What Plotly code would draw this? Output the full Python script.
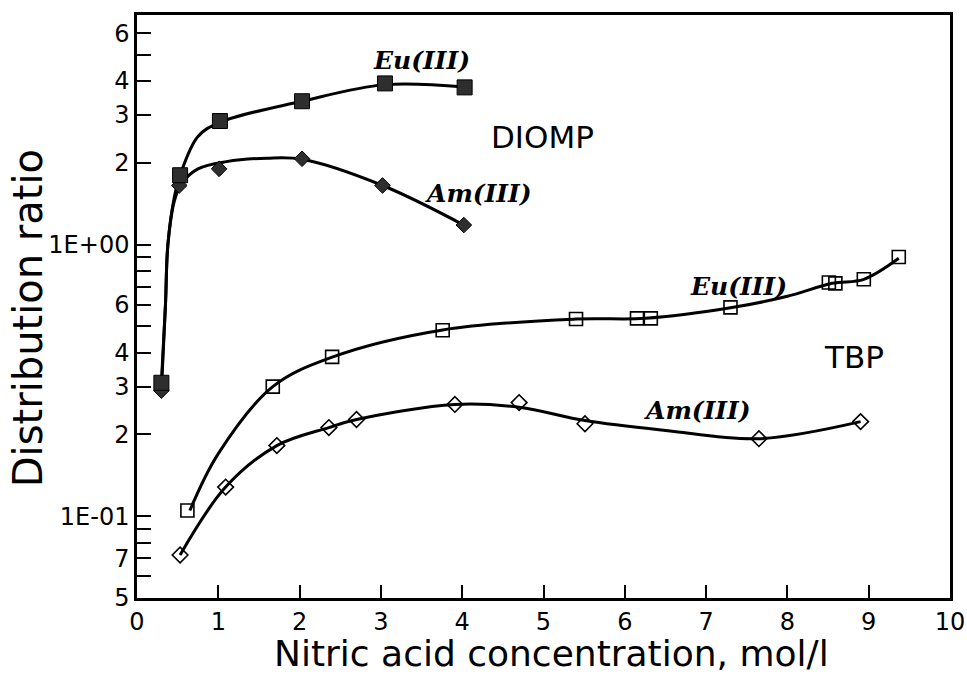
import math
import plotly.graph_objects as go

# Nitric acid concentration (mol/l) and distribution ratios, measured points
diomp_eu_x = [0.30, 0.53, 1.02, 2.03, 3.05, 4.03]
diomp_eu_y = [0.31, 1.80, 2.85, 3.37, 3.92, 3.79]

diomp_am_x = [0.30, 0.52, 1.01, 2.03, 3.02, 4.02]
diomp_am_y = [0.29, 1.65, 1.90, 2.07, 1.65, 1.18]

tbp_eu_x = [0.62, 1.67, 2.40, 3.76, 5.40, 6.15, 6.32, 7.30, 8.51, 8.59, 8.94, 9.37]
tbp_eu_y = [0.105, 0.30, 0.386, 0.484, 0.532, 0.535, 0.535, 0.587, 0.725, 0.72, 0.745, 0.90]

tbp_am_x = [0.53, 1.09, 1.72, 2.36, 2.70, 3.91, 4.70, 5.51, 7.65, 8.90]
tbp_am_y = [0.072, 0.128, 0.182, 0.212, 0.227, 0.258, 0.262, 0.219, 0.193, 0.223]

# Smoothed fit curves drawn through the data
fit_diomp_eu_x = [0.30, 0.35, 0.38, 0.46, 0.53, 0.75, 1.02, 2.03, 3.05, 4.03]
fit_diomp_eu_y = [0.31, 0.60, 1.00, 1.50, 1.80, 2.50, 2.82, 3.37, 3.88, 3.80]

fit_diomp_am_x = [0.30, 0.35, 0.38, 0.46, 0.55, 0.75, 1.10, 1.60, 2.03, 3.02, 4.02]
fit_diomp_am_y = [0.29, 0.60, 1.00, 1.45, 1.68, 1.90, 2.02, 2.08, 2.06, 1.65, 1.18]

fit_tbp_eu_x = [0.65, 1.00, 1.67, 2.40, 3.76, 5.40, 6.25, 7.30, 8.00, 8.55, 8.94, 9.37]
fit_tbp_eu_y = [0.105, 0.17, 0.30, 0.385, 0.485, 0.532, 0.535, 0.585, 0.645, 0.72, 0.745, 0.89]

fit_tbp_am_x = [0.53, 1.09, 1.72, 2.36, 2.70, 3.91, 4.70, 5.51, 6.50, 7.65, 8.90]
fit_tbp_am_y = [0.072, 0.128, 0.182, 0.212, 0.227, 0.258, 0.252, 0.225, 0.207, 0.193, 0.223]

# Axis ticks
x_ticks = list(range(0, 11))
y_tick_vals = [0.05, 0.06, 0.07, 0.08, 0.09, 0.1, 0.2, 0.3, 0.4, 0.5, 0.6, 0.7, 0.8, 0.9,
               1, 2, 3, 4, 5, 6]
y_tick_text = ["5", "", "7", "", "", "1E-01", "2", "3", "4", "", "6", "", "", "",
               "1E+00", "2", "3", "4", "", "6"]

SANS = "DejaVu Sans"
SERIF = "DejaVu Serif"
INK = "black"
FILL = "#2e2e2e"

fig = go.Figure()

curve = dict(mode="lines", line=dict(color=INK, width=3, shape="spline", smoothing=1.0),
             hoverinfo="skip", showlegend=False)
for cx, cy in [(fit_diomp_eu_x, fit_diomp_eu_y), (fit_diomp_am_x, fit_diomp_am_y),
               (fit_tbp_eu_x, fit_tbp_eu_y), (fit_tbp_am_x, fit_tbp_am_y)]:
    fig.add_trace(go.Scatter(x=cx, y=cy, **curve))

fig.add_trace(go.Scatter(x=diomp_am_x, y=diomp_am_y, mode="markers", showlegend=False,
                         marker=dict(symbol="diamond", size=12, color=FILL,
                                     line=dict(color=INK, width=1))))
fig.add_trace(go.Scatter(x=diomp_eu_x, y=diomp_eu_y, mode="markers", showlegend=False,
                         marker=dict(symbol="square", size=15, color=FILL,
                                     line=dict(color=INK, width=1))))
fig.add_trace(go.Scatter(x=tbp_eu_x, y=tbp_eu_y, mode="markers", showlegend=False,
                         marker=dict(symbol="square-open", size=13, color=INK,
                                     line=dict(color=INK, width=1.6))))
fig.add_trace(go.Scatter(x=tbp_am_x, y=tbp_am_y, mode="markers", showlegend=False,
                         marker=dict(symbol="diamond-open", size=12, color=INK,
                                     line=dict(color=INK, width=1.6))))

# Series labels: (x, y, text)
series_labels = [
    (3.50, 4.75, "Eu(III)"),
    (4.20, 1.54, "Am(III)"),
    (7.40, 0.70, "Eu(III)"),
    (6.90, 0.245, "Am(III)"),
]
system_labels = [
    (4.99, 2.48, "DIOMP"),
    (8.82, 0.385, "TBP"),
]

annotations = []
for xv, yv, text in series_labels:
    annotations.append(dict(x=xv, y=math.log10(yv), text=text, showarrow=False,
                            font=dict(family=SERIF, size=25, color=INK, style="italic",
                                      weight="bold"),
                            xanchor="center", yanchor="middle"))
for xv, yv, text in system_labels:
    annotations.append(dict(x=xv, y=math.log10(yv), text=text, showarrow=False,
                            font=dict(family=SANS, size=31, color=INK),
                            xanchor="center", yanchor="middle"))
annotations.append(dict(xref="paper", yref="paper", x=0.51, y=-0.095,
                        text="Nitric acid concentration, mol/l", showarrow=False,
                        font=dict(family=SANS, size=36, color=INK),
                        xanchor="center", yanchor="middle"))
annotations.append(dict(xref="paper", yref="paper", x=-0.134, y=0.48,
                        text="Distribution ratio", showarrow=False, textangle=-90,
                        font=dict(family=SANS, size=40, color=INK),
                        xanchor="center", yanchor="middle"))

fig.update_layout(
    width=967, height=677,
    margin=dict(l=137, r=17, t=15, b=79, autoexpand=False),
    paper_bgcolor="white", plot_bgcolor="white",
    showlegend=False,
    annotations=annotations,
    xaxis=dict(range=[0, 10], tickmode="array", tickvals=x_ticks,
               ticktext=[str(v) for v in x_ticks], automargin=False,
               ticklabeloverflow="allow",
               ticks="inside", ticklen=13, tickwidth=2, tickcolor=INK,
               showline=True, linecolor=INK, linewidth=2.5, mirror=True,
               showgrid=False, zeroline=False,
               tickfont=dict(family=SANS, size=24, color=INK)),
    yaxis=dict(type="log", range=[math.log10(0.05), math.log10(7)],
               tickmode="array", tickvals=y_tick_vals, ticktext=y_tick_text,
               automargin=False, ticklabeloverflow="allow",
               ticks="inside", ticklen=14, tickwidth=2, tickcolor=INK,
               showline=True, linecolor=INK, linewidth=2.5, mirror=True,
               showgrid=False, zeroline=False,
               tickfont=dict(family=SANS, size=24, color=INK)),
)

fig.write_html("out.html")
